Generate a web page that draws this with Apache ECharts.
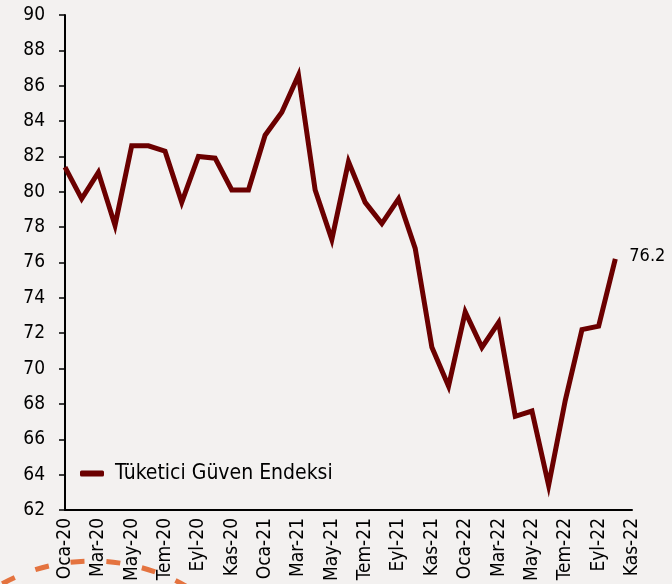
<!DOCTYPE html>
<html>
<head>
<meta charset="utf-8">
<script src="https://cdn.jsdelivr.net/npm/echarts@6/dist/echarts.min.js"></script>
<style>
  html, body { margin: 0; padding: 0; background: #f3f1f0; }
  #chart { width: 672px; height: 584px; }
</style>
</head>
<body>
<div id="chart"></div>
<script>
const months = ["Oca", "Şub", "Mar", "Nis", "May", "Haz", "Tem", "Ağu", "Eyl", "Eki", "Kas", "Ara"];
const years = ["20", "21", "22"];

// Oca-20 .. Kas-22
const categories = [];
years.forEach((y) => months.forEach((m) => categories.push(m + "-" + y)));
categories.splice(35);

// Tüketici Güven Endeksi, Oca-20 .. Eki-22
const confidence = [
  81.4, 79.6, 81.1, 78.1, 82.6, 82.6, 82.3, 79.4, 82.0, 81.9, 80.1, 80.1,
  83.2, 84.5, 86.6, 80.1, 77.3, 81.7, 79.4, 78.2, 79.6, 76.8, 71.2, 69.0,
  73.2, 71.2, 72.6, 67.3, 67.6, 63.4, 68.2, 72.2, 72.4, 76.2,
];

const font = "'DejaVu Sans Condensed', 'DejaVu Sans', sans-serif";
const chart = echarts.init(document.getElementById("chart"), null, { renderer: "canvas" });

chart.setOption({
  animation: false,
  backgroundColor: "#f3f1f0",
  textStyle: { fontFamily: font },
  grid: { left: 65, right: 40, top: 15, bottom: 74 },
  legend: {
    left: 75,
    top: 458,
    itemWidth: 24,
    itemHeight: 6,
    icon: "roundRect",
    textStyle: { fontFamily: font, fontSize: 21, color: "#000", padding: [0, 0, 0, 6] },
    data: ["Tüketici Güven Endeksi"],
  },
  xAxis: {
    type: "category",
    data: categories,
    boundaryGap: false,
    axisLine: { lineStyle: { color: "#000", width: 2 } },
    axisTick: { show: false },
    axisLabel: {
      interval: 1,
      rotate: 90,
      margin: 8,
      color: "#000",
      fontFamily: font,
      fontSize: 19,
    },
  },
  yAxis: {
    type: "value",
    min: 62,
    max: 90,
    interval: 2,
    splitLine: { show: false },
    axisLine: { show: true, lineStyle: { color: "#000", width: 2 } },
    axisTick: { show: true, length: 6, lineStyle: { color: "#000", width: 1.5 } },
    axisLabel: { color: "#000", fontFamily: font, fontSize: 19, margin: 20 },
  },
  series: [
    {
      name: "Tüketici Güven Endeksi",
      type: "line",
      data: confidence,
      showSymbol: false,
      lineStyle: { color: "#6b0000", width: 5, join: "miter" },
      itemStyle: { color: "#6b0000" },
      endLabel: {
        show: true,
        formatter: (p) => p.value.toFixed(1),
        color: "#000",
        fontFamily: font,
        fontSize: 18,
        distance: 14,
        offset: [0, -3],
      },
    },
  ],
  graphic: [
    {
      type: "circle",
      shape: { cx: 92, cy: 749, r: 188 },
      style: { stroke: "#e4733f", lineWidth: 5, lineDash: [14, 22], fill: null },
      z: 0,
    },
  ],
});
</script>
</body>
</html>
